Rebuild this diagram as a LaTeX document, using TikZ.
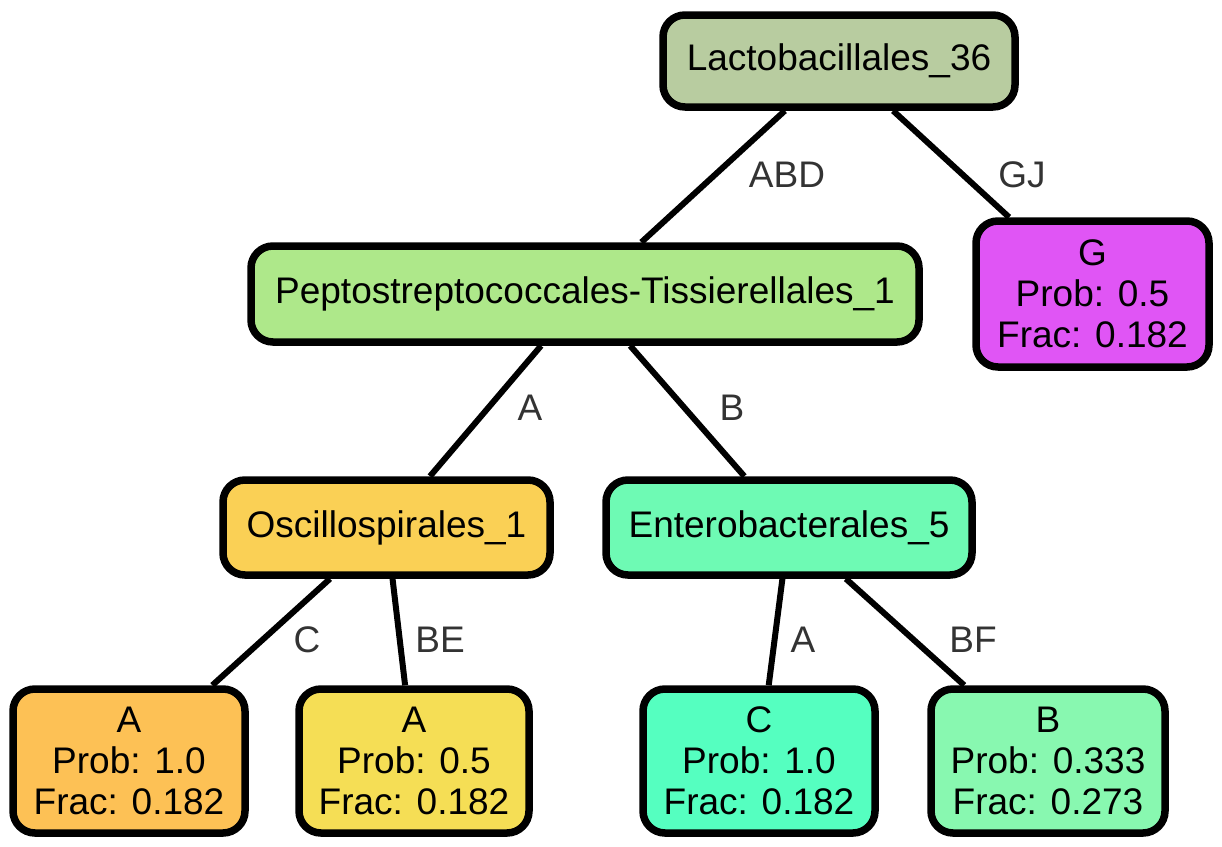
\documentclass[tikz,border=0pt]{standalone}
\usepackage{fontspec}
\setmainfont{Liberation Sans}
\usetikzlibrary{backgrounds}
\definecolor{clacto}{HTML}{B8CCA0}
\definecolor{cpepto}{HTML}{AEE88A}
\definecolor{cg}{HTML}{E055F5}
\definecolor{cosc}{HTML}{FAD055}
\definecolor{cent}{HTML}{6EFAB4}
\definecolor{ca1}{HTML}{FDC155}
\definecolor{ca2}{HTML}{F5DE55}
\definecolor{cc}{HTML}{55FFC0}
\definecolor{cb}{HTML}{88F8B0}
\definecolor{lblgray}{HTML}{333333}
\tikzset{
  treebox/.style={draw=black, line width=7.5pt, rounded corners=22pt, inner sep=0pt,
    align=center, font=\fontsize{37}{41}\selectfont, minimum height=92pt},
  leafbox/.style={treebox, minimum height=144pt, minimum width=232pt},
  edgeline/.style={line width=6pt, black},
  elabel/.style={text=lblgray, font=\fontsize{37}{41}\selectfont, inner sep=0pt}
}
\begin{document}
\begin{tikzpicture}[x=1pt,y=-1pt]
\useasboundingbox (0,0) rectangle (1222,846);
\node[treebox, fill=clacto, minimum width=352pt, minimum height=92pt] (lacto) at (839,61) {Lactobacillales\_36};
\node[treebox, fill=cpepto, minimum width=668pt, minimum height=96pt] (pepto) at (585,294) {Peptostreptococcales-Tissierellales\_1};
\node[leafbox, fill=cg, minimum width=233pt, minimum height=146pt] (g) at (1092.5,294) {G\\Prob: 0.5\\Frac: 0.182};
\node[treebox, fill=cosc, minimum width=327pt, minimum height=95pt] (osc) at (386.5,527.5) {Oscillospirales\_1};
\node[treebox, fill=cent, minimum width=366pt, minimum height=95pt] (ent) at (789,527.5) {Enterobacterales\_5};
\node[leafbox, fill=ca1] (a1) at (129,761) {A\\Prob: 1.0\\Frac: 0.182};
\node[leafbox, fill=ca2, minimum width=230pt] (a2) at (414,761) {A\\Prob: 0.5\\Frac: 0.182};
\node[leafbox, fill=cc] (c) at (759,761) {C\\Prob: 1.0\\Frac: 0.182};
\node[leafbox, fill=cb, minimum width=234pt] (b) at (1048,761) {B\\Prob: 0.333\\Frac: 0.273};
\begin{scope}[on background layer]
\draw[edgeline] (lacto) -- (pepto);
\draw[edgeline] (lacto) -- (g);
\draw[edgeline] (pepto) -- (osc);
\draw[edgeline] (pepto) -- (ent);
\draw[edgeline] (osc) -- (a1);
\draw[edgeline] (osc) -- (a2);
\draw[edgeline] (ent) -- (c);
\draw[edgeline] (ent) -- (b);
\end{scope}
\node[elabel] (lABD) at (787,175) {ABD};
\node[elabel] (lGJ) at (1022,175) {GJ};
\node[elabel] (lA1) at (530,408) {A};
\node[elabel] (lB1) at (732,408) {B};
\node[elabel] (lC) at (307,640) {C};
\node[elabel] (lBE) at (440,640) {BE};
\node[elabel] (lA2) at (803,640) {A};
\node[elabel] (lBF) at (973,640) {BF};
\end{tikzpicture}
\end{document}
